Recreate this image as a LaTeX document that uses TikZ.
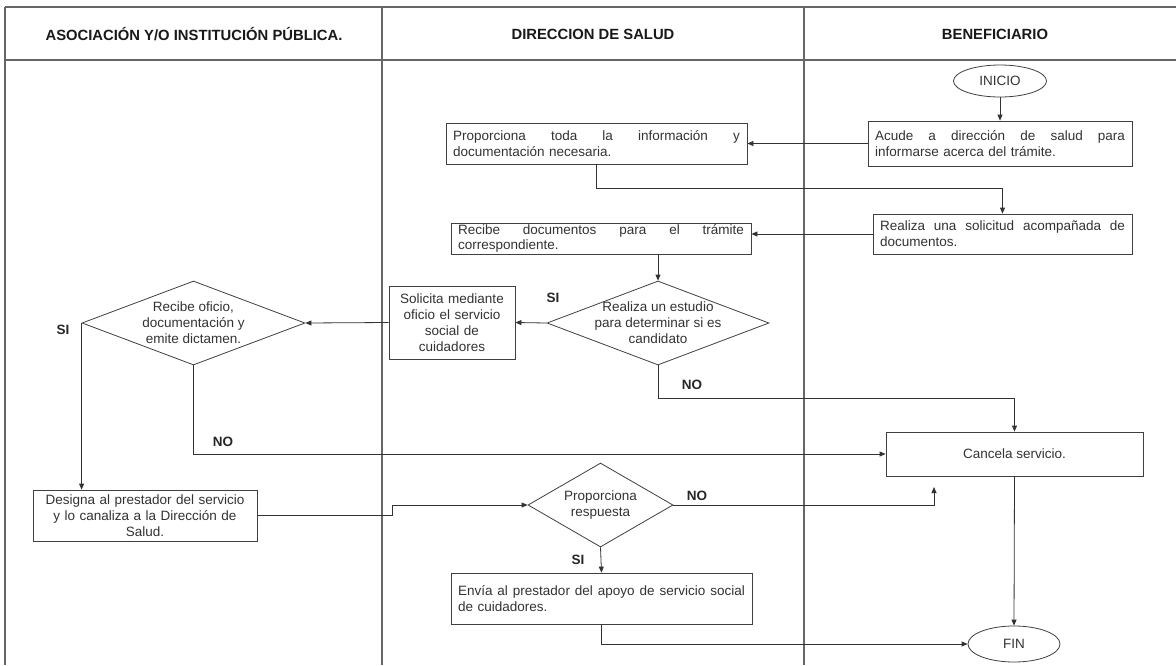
\documentclass[tikz,border=0pt]{standalone}
\usepackage{fontspec}
\setmainfont{Liberation Sans}
\usetikzlibrary{shapes.geometric,arrows.meta,calc}
\begin{document}
\begin{tikzpicture}[
  x=1pt, y=-1pt,
  every node/.style={font=\fontsize{13.5}{16}\selectfont, text=black!80},
  box/.style={draw=black!75, line width=0.8pt, rectangle, inner xsep=7pt, inner ysep=1pt},
  dia/.style={draw=black!75, line width=0.8pt, diamond, inner sep=-14pt, align=center},
  oval/.style={draw=black!75, line width=0.8pt, ellipse, inner sep=0pt},
  conn/.style={draw=black!80, line width=0.8pt},
  arr/.style={conn, -{Triangle[length=6pt,width=5pt]}},
  lbl/.style={font=\fontsize{13.5}{16}\bfseries\selectfont, text=black!85},
  lane/.style={draw=black!60, line width=1.3pt},
  head/.style={font=\fontsize{14.8}{17}\bfseries\selectfont, text=black!90},
]
\useasboundingbox (0,0) rectangle (1176,665);
\fill[white] (0,0) rectangle (1176,665);

% swimlane frame
\draw[lane] (5,7) -- (1176,7);
\draw[lane] (5,60) -- (1176,60);
\draw[lane] (5,7) -- (5,665);
\draw[lane] (382,7) -- (382,665);
\draw[lane] (804,7) -- (804,665);

\node[head] (h1) at (194,34) {ASOCIACIÓN Y/O INSTITUCIÓN PÚBLICA.};
\node[head] (h2) at (593,34) {DIRECCION DE SALUD};
\node[head] (h3) at (995,34) {BENEFICIARIO};

% nodes
\node[oval, minimum width=93pt, minimum height=32pt] (ini) at (1000,81) {INICIO};
\node[box, text width=250pt, minimum height=45pt, align=left] (acu) at (1000,143.5)
  {\hbox to 250pt{Acude\hfill a\hfill dirección\hfill de\hfill salud\hfill para}\\informarse acerca del trámite.};
\node[box, text width=287pt, minimum height=41pt, align=left] (prop) at (596.5,143.5)
  {\hbox to 287pt{Proporciona\hfill toda\hfill la\hfill información\hfill y}\\documentación necesaria.};
\node[box, text width=245pt, minimum height=40pt, align=left] (real) at (1002.5,234)
  {\hbox to 245pt{Realiza\hfill una\hfill solicitud\hfill acompañada\hfill de}\\documentos.};
\node[box, text width=286pt, minimum height=31pt, inner ysep=1.5pt, align=left,
      font=\fontsize{13.5}{14.5}\selectfont] (rec) at (601,238.5)
  {\hbox to 286pt{Recibe\hfill documentos\hfill para\hfill el\hfill trámite}\\correspondiente.};
\node[dia, aspect=2.64, minimum width=222pt, minimum height=84pt] (est) at (658,323)
  {Realiza un estudio\\para determinar si es\\candidato};
\node[box, text width=112pt, minimum height=73pt, align=center] (sol) at (452,322.5)
  {Solicita mediante\\oficio el servicio\\social de\\cuidadores};
\node[dia, aspect=2.65, minimum width=223pt, minimum height=84pt] (ofi) at (193.5,323)
  {Recibe oficio,\\documentación y\\emite dictamen.};
\node[box, text width=210pt, minimum height=51pt, align=center] (des) at (145,515.5)
  {Designa al prestador del servicio\\y lo canaliza a la Dirección de\\Salud.};
\node[dia, aspect=1.73, minimum width=145pt, minimum height=84pt, inner sep=-8pt] (resp) at (600.5,505)
  {Proporciona\\respuesta};
\node[box, text width=287pt, minimum height=51pt, align=left] (env) at (601.5,598.5)
  {\hbox to 287pt{Envía\hfill al\hfill prestador\hfill del\hfill apoyo\hfill de\hfill servicio\hfill social}\\de cuidadores.};
\node[box, minimum width=257pt, minimum height=44pt] (can) at (1014.5,454) {Cancela servicio.};
\node[oval, minimum width=92pt, minimum height=36pt] (fin) at (1014,644) {FIN};

% connectors
\draw[arr] (ini) -- (acu);
\draw[arr] (acu.west) -- (prop.east);
\draw[arr] (prop.south) -- ++(0,24) -| (real.north);
\draw[arr] (real.west) -- (real.west -| rec.east);
\draw[arr] (rec.south -| est.north) -- (est.north);
\draw[arr] (est.west) -- (sol.east);
\draw[arr] (sol.west) -- (ofi.east);
\draw[arr] (ofi.west) -- (ofi.west |- des.north);
\draw[arr] (ofi.south) |- (can.west);
\draw[arr] (est.south) -- ++(0,33) -| (can.north);
\draw[arr] (des.east) -- ++(135,0) |- (resp.west);
\coordinate (upend) at (934,487);
\draw[arr] (resp.east) -| (upend);
\draw[arr] (resp.south) -- (env.north);
\draw[arr] (env.south) |- (fin.west);
\draw[arr] (can.south) -- (fin.north);

% branch labels
\node[lbl] (si1) at (553,298) {SI};
\node[lbl] (no1) at (692,385) {NO};
\node[lbl] (si2) at (63,330) {SI};
\node[lbl] (no2) at (223,442) {NO};
\node[lbl] (no3) at (697,496) {NO};
\node[lbl] (si3) at (578,560) {SI};
\end{tikzpicture}
\end{document}
